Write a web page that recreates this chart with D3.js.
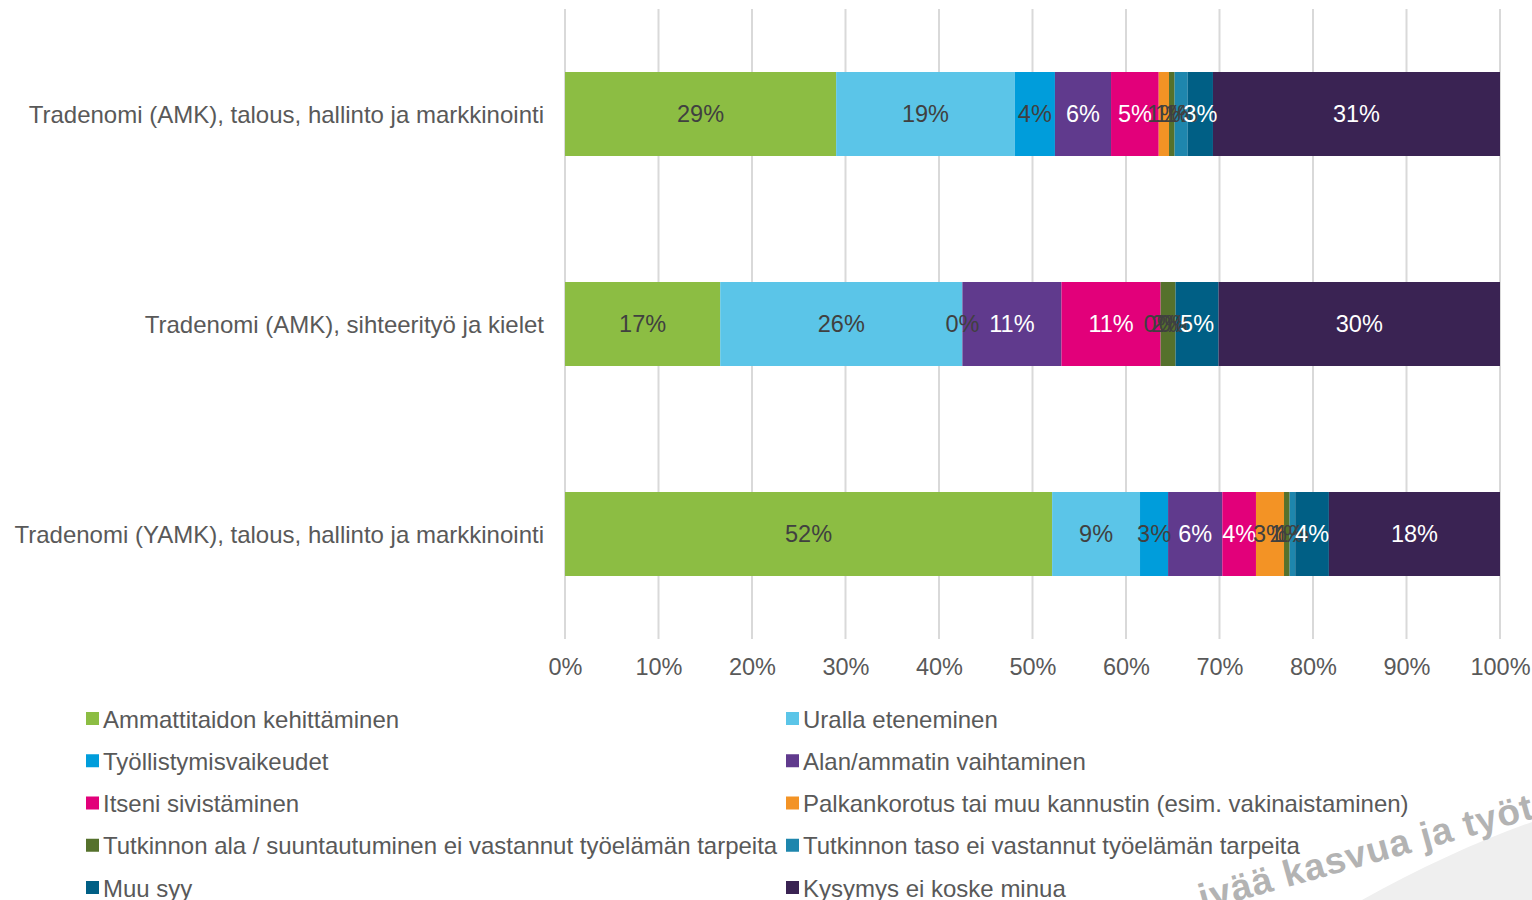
<!DOCTYPE html>
<html>
<head>
<meta charset="utf-8">
<script src="https://cdn.jsdelivr.net/npm/d3@7"></script>
<style>
  html, body { margin: 0; padding: 0; background: #fff; }
  svg { display: block; font-family: "Liberation Sans", Arial, sans-serif; }
</style>
</head>
<body>
<svg id="chart" width="1532" height="900"></svg>
<script>
// Degree programmes (rows, top to bottom)
const categories = [
  "Tradenomi (AMK), talous, hallinto ja markkinointi",
  "Tradenomi (AMK), sihteerityö ja kielet",
  "Tradenomi (YAMK), talous, hallinto ja markkinointi"
];

// Reasons (stack order, left to right)
const seriesNames = [
  "Ammattitaidon kehittäminen",
  "Uralla eteneminen",
  "Työllistymisvaikeudet",
  "Alan/ammatin vaihtaminen",
  "Itseni sivistäminen",
  "Palkankorotus tai muu kannustin (esim. vakinaistaminen)",
  "Tutkinnon ala / suuntautuminen ei vastannut työelämän tarpeita",
  "Tutkinnon taso ei vastannut työelämän tarpeita",
  "Muu syy",
  "Kysymys ei koske minua"
];

const seriesColors = [
  "#8cbd43", "#5bc5e8", "#009ddb", "#603a8d", "#e2007a",
  "#f39325", "#55712c", "#1e86ad", "#005f85", "#3a2353"
];

// Label colour per series (light text on dark fills)
const labelColors = [
  "#404040", "#404040", "#404040", "#ffffff", "#ffffff",
  "#404040", "#404040", "#404040", "#ffffff", "#ffffff"
];

// Shares in percent, one array per programme, in series order
const valuesAmkTalous   = [29.0, 19.1, 4.3, 6.0, 5.1, 1.1, 0.6, 1.4, 2.7, 30.7];
const valuesAmkSihteeri = [16.6, 25.9, 0.0, 10.6, 10.6, 0.0, 1.6, 0.0, 4.6, 30.1];
const valuesYamkTalous  = [52.1, 9.4, 3.0, 5.8, 3.6, 3.0, 0.6, 0.6, 3.6, 18.3];

const tickValues = [0, 10, 20, 30, 40, 50, 60, 70, 80, 90, 100];

const rowValues = [valuesAmkTalous, valuesAmkSihteeri, valuesYamkTalous];
const table = categories.map((c, i) => {
  const row = { category: c };
  seriesNames.forEach((s, j) => { row[s] = rowValues[i][j]; });
  return row;
});

const svg = d3.select("#chart");
const textColor = "#595959";

const x = d3.scaleLinear().domain([0, 100]).range([565, 1500]);
const y = d3.scaleBand().domain(categories).range([9, 639])
  .paddingInner(0.6).paddingOuter(0.3);

// Watermark area in the lower right corner
svg.append("path")
  .attr("d", "M1362,900 C1420,868 1480,840 1532,822 L1532,900 Z")
  .attr("fill", "#efefef");

svg.append("text")
  .attr("transform", "translate(1536,818) rotate(-15.5)")
  .attr("text-anchor", "end")
  .attr("font-size", 37)
  .attr("font-weight", "bold")
  .attr("fill", "#b3b3b3")
  .attr("letter-spacing", 1)
  .text("ivää kasvua ja työt");

// Vertical gridlines
svg.append("g")
  .selectAll("line")
  .data(tickValues)
  .join("line")
  .attr("x1", d => x(d)).attr("x2", d => x(d))
  .attr("y1", 9).attr("y2", 639)
  .attr("stroke", "#d9d9d9")
  .attr("stroke-width", 2);

// Stacked bars
const stack = d3.stack().keys(seriesNames);
const layers = stack(table);

const layerG = svg.append("g")
  .selectAll("g")
  .data(layers)
  .join("g")
  .attr("fill", (d, i) => seriesColors[i]);

layerG.selectAll("rect")
  .data(d => d)
  .join("rect")
  .attr("x", d => x(d[0]))
  .attr("y", d => y(d.data.category))
  .attr("width", d => x(d[1]) - x(d[0]))
  .attr("height", y.bandwidth());

// Value labels
const labelG = svg.append("g");
layers.forEach((layer, i) => {
  labelG.append("g")
    .selectAll("text")
    .data(layer)
    .join("text")
    .attr("x", d => (x(d[0]) + x(d[1])) / 2)
    .attr("y", d => y(d.data.category) + y.bandwidth() / 2)
    .attr("dy", "0.36em")
    .attr("text-anchor", "middle")
    .attr("font-size", 23.5)
    .attr("fill", labelColors[i])
    .text(d => Math.round(d[1] - d[0]) + "%");
});

// Category axis labels
svg.append("g")
  .selectAll("text")
  .data(categories)
  .join("text")
  .attr("x", 544)
  .attr("y", d => y(d) + y.bandwidth() / 2)
  .attr("dy", "0.36em")
  .attr("text-anchor", "end")
  .attr("font-size", 24)
  .attr("fill", textColor)
  .text(d => d);

// Percentage axis
const xAxis = d3.axisBottom(x)
  .tickValues(tickValues)
  .tickFormat(d => d + "%")
  .tickSize(0)
  .tickPadding(0);

const axisG = svg.append("g")
  .attr("transform", "translate(0,658)")
  .call(xAxis);
axisG.select(".domain").remove();
axisG.selectAll("text")
  .attr("font-family", "Liberation Sans, Arial, sans-serif")
  .attr("font-size", 23.5)
  .attr("fill", textColor)
  .attr("dy", "0.71em");

// Legend: two columns, filled row by row
const legendCols = [86, 786];
const legendRowY = d3.scaleLinear().domain([0, 4]).range([719, 888]);
const legend = svg.append("g")
  .selectAll("g")
  .data(seriesNames)
  .join("g")
  .attr("transform", (d, i) =>
    `translate(${legendCols[i % 2]},${legendRowY(Math.floor(i / 2))})`);

legend.append("rect")
  .attr("x", 0).attr("y", -7)
  .attr("width", 13).attr("height", 13)
  .attr("fill", (d, i) => seriesColors[i]);

legend.append("text")
  .attr("x", 17)
  .attr("y", 0)
  .attr("dy", "0.36em")
  .attr("font-size", 24)
  .attr("fill", textColor)
  .text(d => d);
</script>
</body>
</html>
